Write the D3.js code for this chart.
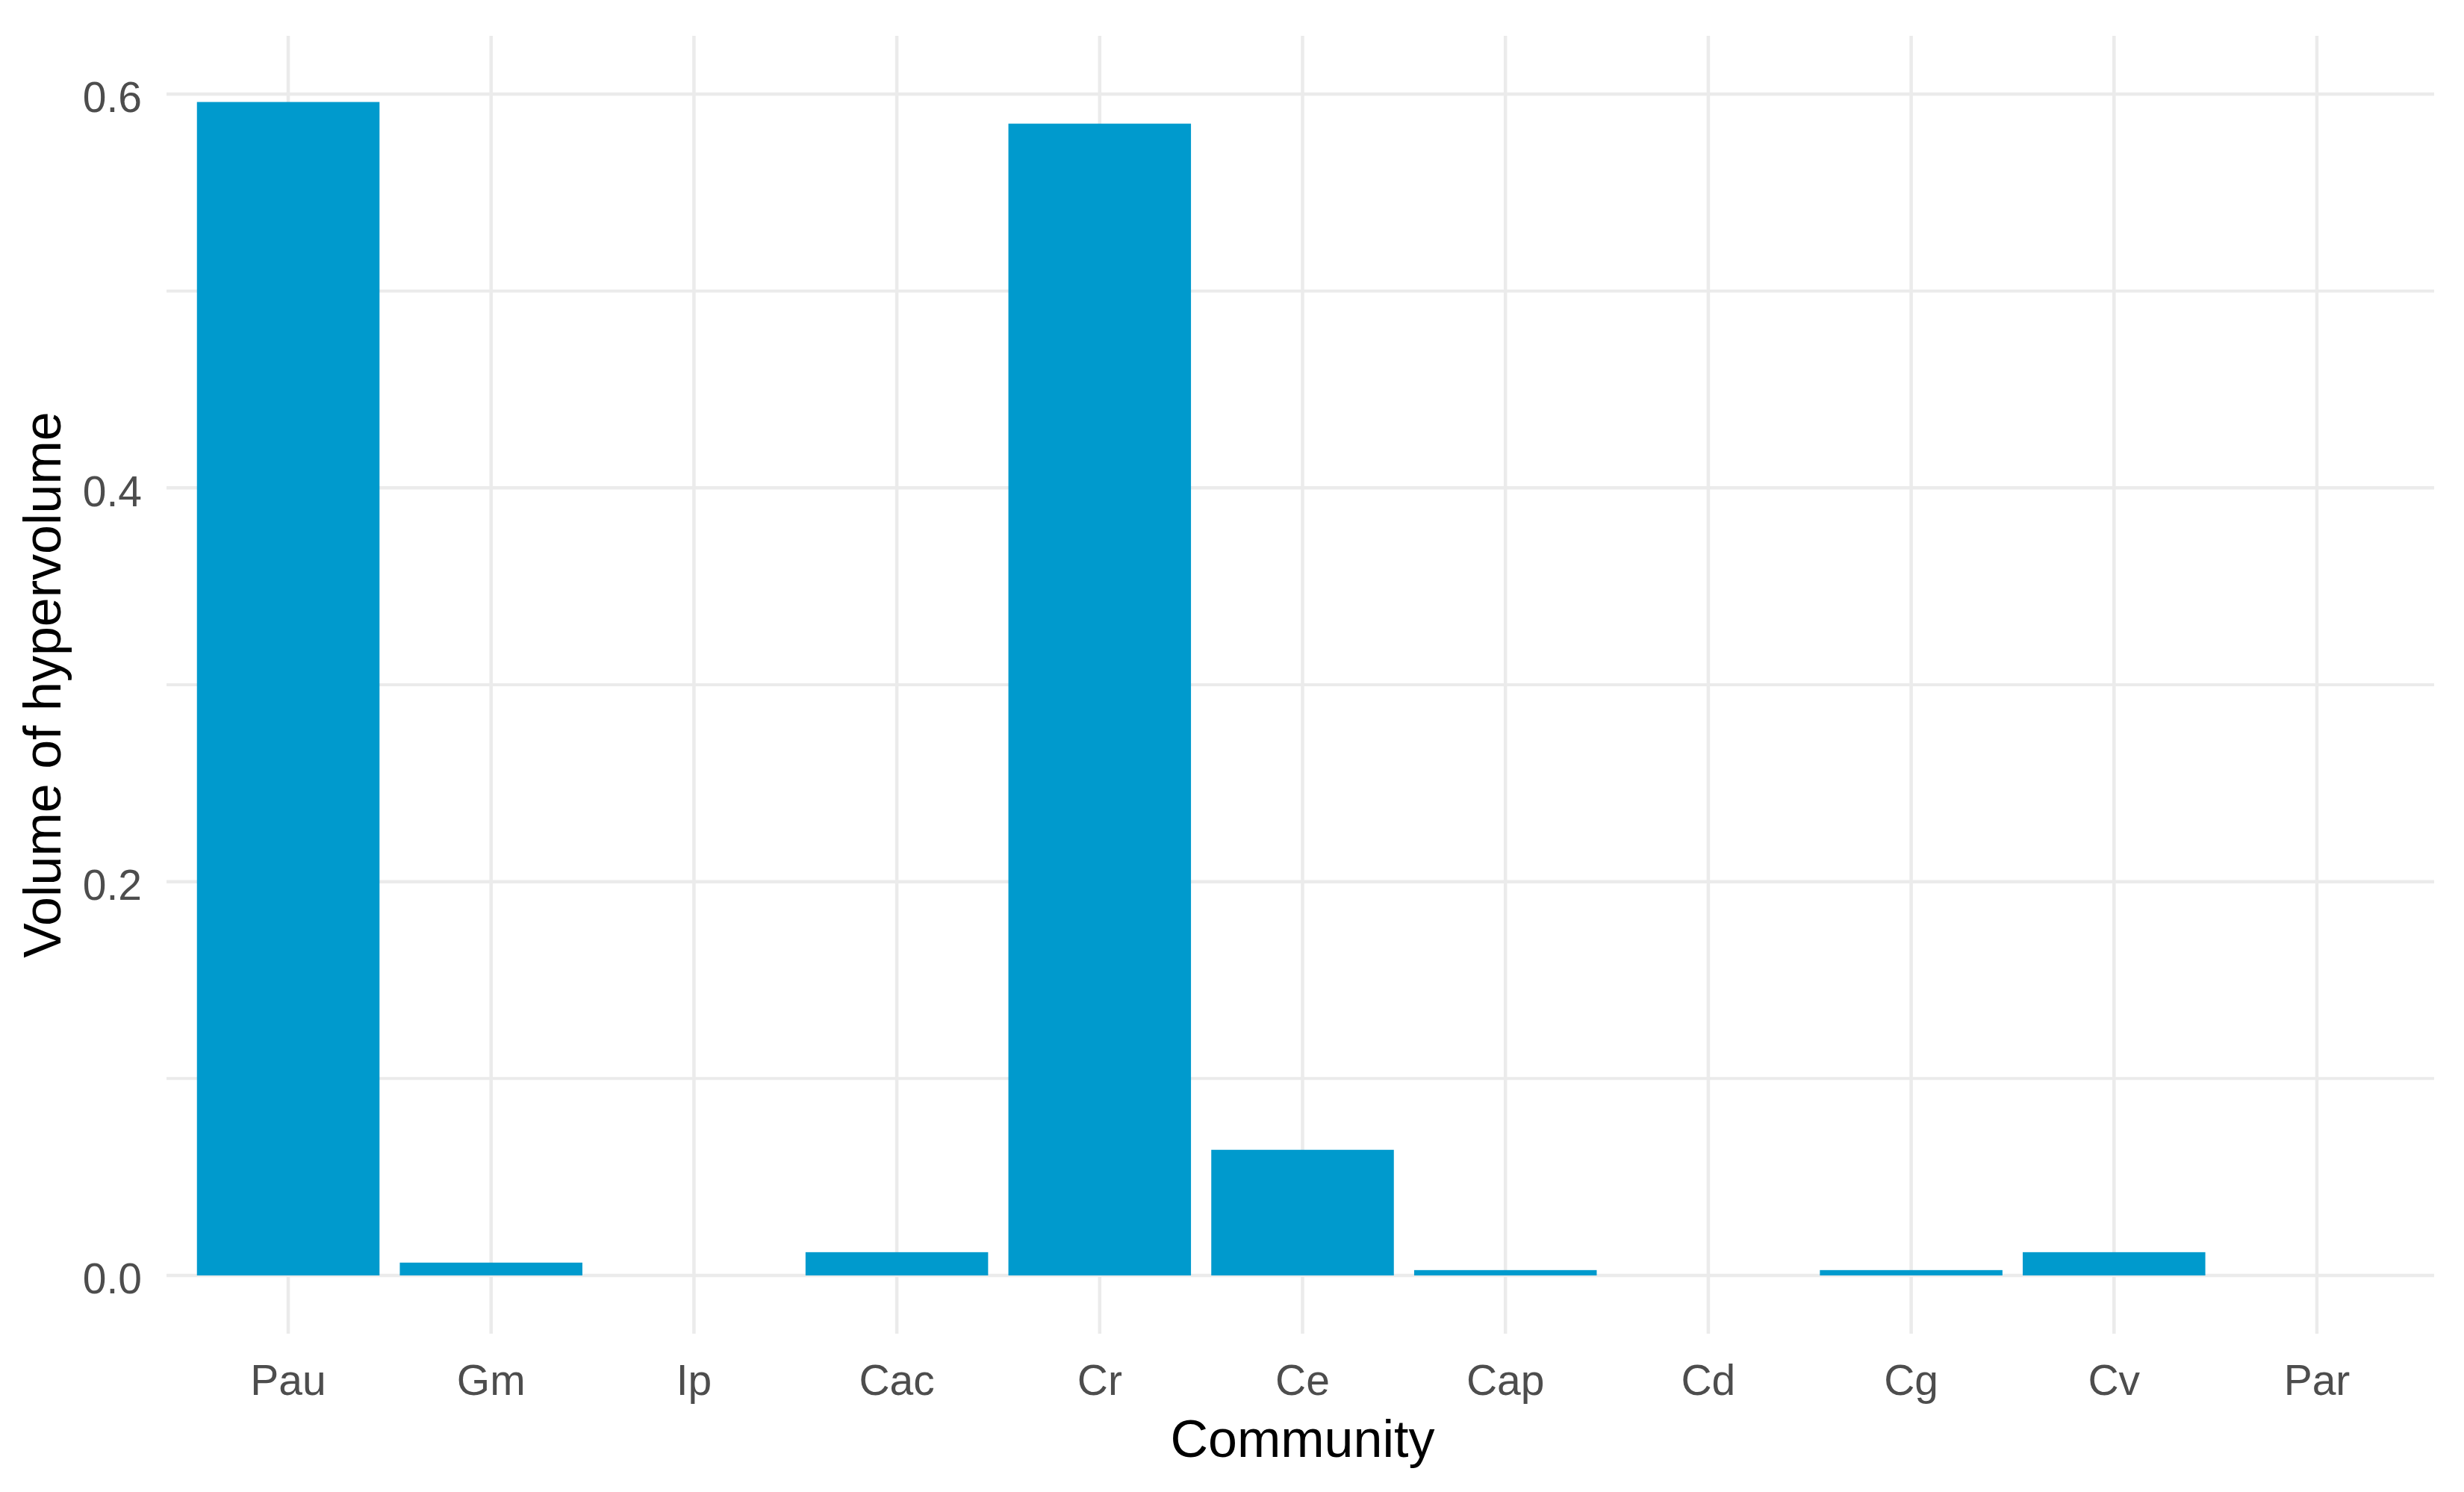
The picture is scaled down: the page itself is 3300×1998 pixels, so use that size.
<!DOCTYPE html>
<html>
<head>
<meta charset="utf-8">
<script src="https://cdn.jsdelivr.net/npm/d3@7"></script>
<style>
  body { margin: 0; background: #fff; }
  text { font-family: "Liberation Sans", Arial, sans-serif; }
</style>
</head>
<body>
<svg></svg>
<script>
// hypervolume per community
let categories = ["Pau", "Gm", "Ip", "Cac", "Cr", "Ce", "Cap", "Cd", "Cg", "Cv", "Par"];
let values = [0.596, 0.0065, 0, 0.0118, 0.585, 0.0638, 0.0027, 0, 0.0027, 0.0118, 0];
let majorTicks = [0, 0.2, 0.4, 0.6];
let minorTicks = [0.1, 0.3, 0.5];
let yLimits = [-0.0296, 0.6296];

let width = 3300,
    height = 1998;

let svg = d3.select("svg")
    .attr("width", width)
    .attr("height", height);

let panel = { left: 223, right: 3266, top: 48, bottom: 1786 };
let gridRight = 3260;

let y = d3.scaleLinear()
    .domain(yLimits)
    .range([panel.bottom, panel.top]);

// discrete axis: 0.6 step on each side, bars 0.9 wide
let x = d3.scaleBand()
    .domain(categories)
    .range([panel.left, panel.right])
    .paddingInner(0.1)
    .paddingOuter(0.15);

let grid = svg.append("g").attr("class", "grid");

grid.selectAll("line.h")
    .data(majorTicks.concat(minorTicks))
    .enter().append("line")
    .attr("class", "h")
    .attr("x1", panel.left)
    .attr("x2", gridRight)
    .attr("y1", d => y(d))
    .attr("y2", d => y(d))
    .attr("stroke", "#EBEBEB")
    .attr("stroke-width", d => majorTicks.includes(d) ? 4.5 : 4);

grid.selectAll("line.v")
    .data(categories)
    .enter().append("line")
    .attr("class", "v")
    .attr("x1", d => x(d) + x.bandwidth() / 2)
    .attr("x2", d => x(d) + x.bandwidth() / 2)
    .attr("y1", panel.top)
    .attr("y2", panel.bottom)
    .attr("stroke", "#EBEBEB")
    .attr("stroke-width", 4.5);

svg.append("g").attr("class", "bars")
    .selectAll("rect")
    .data(values)
    .enter().append("rect")
    .attr("x", (d, i) => x(categories[i]))
    .attr("width", x.bandwidth())
    .attr("y", d => y(d))
    .attr("height", d => y(0) - y(d))
    .attr("fill", "#009ACD");

// axes: labels only, no lines
let xAxis = svg.append("g")
    .attr("transform", `translate(0, ${panel.bottom})`)
    .call(d3.axisBottom(x).tickSize(0).tickPadding(42));
xAxis.select(".domain").remove();
xAxis.selectAll("text")
    .attr("font-size", 57)
    .attr("fill", "#4D4D4D")
    .style("font-family", "Liberation Sans, Arial, sans-serif");

let yAxis = svg.append("g")
    .attr("transform", `translate(${panel.left}, 0)`)
    .call(d3.axisLeft(y).tickValues(majorTicks).tickFormat(d3.format(".1f")).tickSize(0).tickPadding(33));
yAxis.select(".domain").remove();
yAxis.selectAll("text")
    .attr("font-size", 57)
    .attr("dy", "0.42em")
    .attr("fill", "#4D4D4D")
    .style("font-family", "Liberation Sans, Arial, sans-serif");

svg.append("text")
    .attr("x", (panel.left + panel.right) / 2)
    .attr("y", 1951)
    .attr("text-anchor", "middle")
    .attr("font-size", 70)
    .attr("fill", "#000")
    .text("Community");

svg.append("text")
    .attr("transform", `translate(81, ${(panel.top + panel.bottom) / 2}) rotate(-90)`)
    .attr("text-anchor", "middle")
    .attr("font-size", 70)
    .attr("fill", "#000")
    .text("Volume of hypervolume");
</script>
</body>
</html>
